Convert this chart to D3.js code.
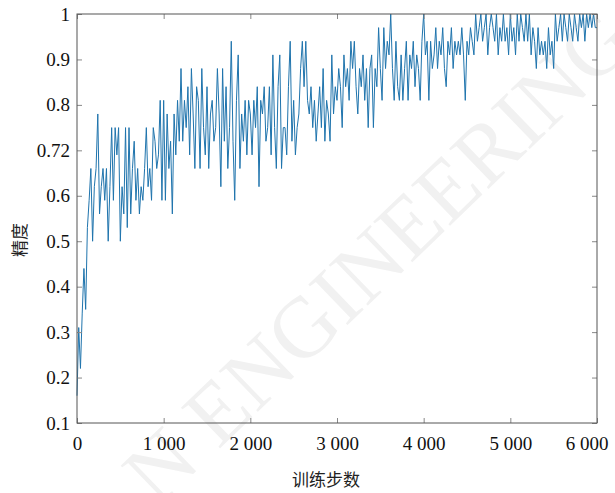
<!DOCTYPE html>
<html lang="zh">

<head>
    <meta charset="UTF-8">
    <title>训练精度曲线</title>
    <script src="https://d3js.org/d3.v7.min.js"></script>
    <style>
        body {
            margin: 0;
            background: white;
        }
    </style>
</head>

<body>
    <svg id="chart" width="615" height="493"></svg>
    <script>
        // 每个点之间的训练步数
        const stepInterval = 20;

        // 精度 (每 20 步一个点, 0 ~ 6000)
        const accuracy = [
            0.16, 0.31, 0.22, 0.34, 0.44, 0.35, 0.53, 0.59, 0.66, 0.50,
            0.62, 0.66, 0.78, 0.56, 0.62, 0.66, 0.59, 0.66, 0.50, 0.62,
            0.75, 0.59, 0.75, 0.69, 0.75, 0.50, 0.62, 0.56, 0.75, 0.53,
            0.75, 0.56, 0.66, 0.72, 0.59, 0.66, 0.56, 0.62, 0.59, 0.66,
            0.75, 0.62, 0.66, 0.59, 0.75, 0.72, 0.66, 0.69, 0.81, 0.59,
            0.81, 0.59, 0.78, 0.66, 0.72, 0.56, 0.78, 0.69, 0.81, 0.72,
            0.88, 0.72, 0.81, 0.75, 0.84, 0.69, 0.88, 0.78, 0.66, 0.84,
            0.81, 0.66, 0.88, 0.75, 0.69, 0.84, 0.66, 0.78, 0.81, 0.72,
            0.75, 0.88, 0.78, 0.62, 0.88, 0.72, 0.84, 0.66, 0.75, 0.94,
            0.72, 0.59, 0.81, 0.91, 0.66, 0.78, 0.72, 0.81, 0.69, 0.81,
            0.78, 0.69, 0.81, 0.75, 0.84, 0.62, 0.81, 0.78, 0.84, 0.72,
            0.75, 0.84, 0.69, 0.91, 0.75, 0.66, 0.84, 0.91, 0.66, 0.75,
            0.75, 0.69, 0.84, 0.94, 0.72, 0.81, 0.69, 0.75, 0.78, 0.88,
            0.94, 0.84, 0.94, 0.81, 0.78, 0.84, 0.75, 0.81, 0.72, 0.78,
            0.84, 0.75, 0.88, 0.72, 0.81, 0.78, 0.72, 0.91, 0.78, 0.84,
            0.81, 0.88, 0.84, 0.75, 0.91, 0.84, 0.88, 0.81, 0.94, 0.88,
            0.94, 0.84, 0.78, 0.88, 0.84, 0.91, 0.81, 0.88, 0.75, 0.88,
            0.91, 0.75, 0.88, 0.84, 0.97, 0.88, 0.81, 0.97, 0.88, 0.94,
            0.91, 1.00, 0.88, 0.81, 0.94, 0.84, 0.81, 0.91, 0.81, 0.88,
            0.94, 0.81, 0.91, 0.88, 0.94, 0.84, 0.91, 0.88, 0.81, 0.94,
            1.00, 0.91, 0.94, 0.81, 0.94, 0.88, 0.91, 0.97, 0.88, 0.94,
            0.91, 0.97, 0.88, 0.84, 0.94, 0.91, 0.97, 0.88, 0.94, 0.91,
            0.94, 0.91, 0.97, 0.91, 0.81, 0.94, 0.91, 0.97, 0.94, 0.91,
            1.00, 0.94, 0.97, 1.00, 0.94, 0.97, 1.00, 0.91, 0.97, 1.00,
            0.97, 0.94, 1.00, 0.91, 0.97, 0.94, 1.00, 0.94, 0.97, 0.91,
            1.00, 0.94, 0.97, 0.91, 1.00, 0.94, 1.00, 0.97, 0.94, 1.00,
            0.94, 1.00, 0.91, 0.97, 0.94, 0.88, 0.97, 0.91, 0.94, 0.91,
            0.94, 0.88, 0.97, 0.91, 0.94, 0.88, 1.00, 0.94, 0.97, 1.00,
            0.94, 1.00, 0.97, 0.94, 1.00, 0.97, 0.94, 1.00, 0.97, 0.94,
            1.00, 0.97, 1.00, 0.94, 1.00, 0.97, 1.00, 0.97, 1.00, 0.97,
            0.97
        ];

        const xTickValues = [0, 1000, 2000, 3000, 4000, 5000, 6000];
        const xTickLabels = ['0', '1 000', '2 000', '3 000', '4 000', '5 000', '6 000'];
        const yTickValues = [0.1, 0.2, 0.3, 0.4, 0.5, 0.6, 0.7, 0.8, 0.9, 1];
        const yTickLabels = ['0.1', '0.2', '0.3', '0.4', '0.5', '0.6', '0.72', '0.8', '0.9', '1'];

        const xTitle = '训练步数';
        const yTitle = '精度';
        const watermark = 'N ENGINEERING';

        const serif = "'Liberation Serif', 'Times New Roman', Times, serif";
        const cjk = "'Noto Sans CJK SC', sans-serif";

        const margin = { top: 14, right: 18, bottom: 70, left: 77 };
        const width = 615, height = 493;
        const innerW = width - margin.left - margin.right;
        const innerH = height - margin.top - margin.bottom;

        const svg = d3.select('#chart');
        const g = svg.append('g')
            .attr('transform', `translate(${margin.left},${margin.top})`);

        const x = d3.scaleLinear().domain([0, 6000]).range([0, innerW]);
        const y = d3.scaleLinear().domain([0.1, 1]).range([innerH, 0]);

        const points = accuracy.map((v, i) => ({ step: i * stepInterval, acc: v }));

        // 曲线
        const line = d3.line()
            .x(d => x(d.step))
            .y(d => y(d.acc));

        g.append('path')
            .datum(points)
            .attr('fill', 'none')
            .attr('stroke', '#1f74ad')
            .attr('stroke-width', 1)
            .attr('d', line);

        // 坐标轴 (刻度朝内, 四边)
        function styleAxis(sel) {
            sel.select('.domain').remove();
            sel.selectAll('.tick line').attr('stroke', '#888');
            sel.selectAll('.tick text')
                .style('font-family', serif)
                .style('font-size', '19px')
                .attr('fill', '#111');
        }

        const xAxisG = g.append('g')
            .attr('transform', `translate(0,${innerH})`)
            .call(d3.axisBottom(x)
                .tickValues(xTickValues)
                .tickFormat((d, i) => xTickLabels[i])
                .tickSize(-5)
                .tickPadding(14))
            .call(styleAxis);

        // 最后一个标签不超出画面
        xAxisG.selectAll('.tick text')
            .filter(d => d === 6000)
            .attr('text-anchor', 'end')
            .attr('x', 11);

        g.append('g')
            .call(d3.axisLeft(y)
                .tickValues(yTickValues)
                .tickFormat((d, i) => yTickLabels[i])
                .tickSize(-5)
                .tickPadding(7))
            .call(styleAxis);

        g.append('g')
            .call(d3.axisTop(x).tickValues(xTickValues).tickFormat('').tickSize(-5))
            .call(styleAxis);

        g.append('g')
            .attr('transform', `translate(${innerW},0)`)
            .call(d3.axisRight(y).tickValues(yTickValues).tickFormat('').tickSize(-5))
            .call(styleAxis);

        g.append('rect')
            .attr('width', innerW)
            .attr('height', innerH)
            .attr('fill', 'none')
            .attr('stroke', '#555')
            .attr('stroke-width', 1);

        // 轴标题
        svg.append('text')
            .attr('x', 326)
            .attr('y', 486)
            .attr('text-anchor', 'middle')
            .style('font-family', cjk)
            .style('font-size', '17px')
            .attr('fill', '#222')
            .text(xTitle);

        svg.append('text')
            .attr('transform', 'translate(26,240) rotate(-90)')
            .attr('text-anchor', 'middle')
            .style('font-family', cjk)
            .style('font-size', '17px')
            .attr('fill', '#222')
            .text(yTitle);

        // 水印
        svg.append('text')
            .attr('transform', 'translate(158,508) rotate(-44)')
            .style('font-family', serif)
            .style('font-size', '86px')
            .attr('fill', '#f1f1f1')
            .text(watermark);

        // 曲线和坐标轴放在水印上面
        g.raise();
    </script>
</body>

</html>
